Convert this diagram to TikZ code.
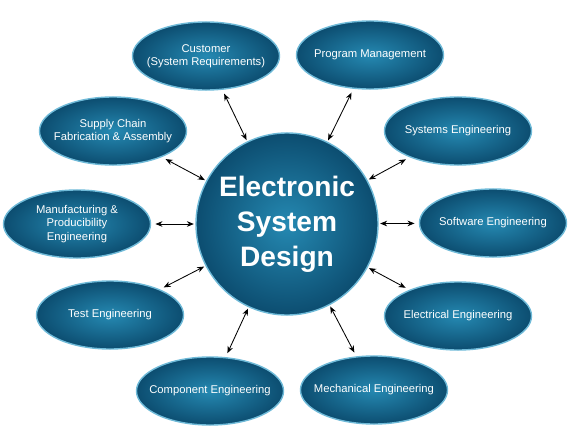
\documentclass[tikz,border=0pt]{standalone}
\usepackage{fontspec}
\setmainfont{Liberation Sans}
\usetikzlibrary{shapes.geometric,arrows.meta}
\definecolor{rimblue}{HTML}{6FBAD8}
\definecolor{innerblue}{HTML}{2589B2}
\definecolor{outerblue}{HTML}{0C4D70}
\tikzset{
  area/.style={ellipse, draw=rimblue, line width=1pt, shading=radial,
    inner color=innerblue, outer color=outerblue, text=white,
    minimum width=3.675cm, minimum height=1.7cm, inner xsep=-10pt, inner ysep=0pt,
    align=center, font=\fontsize{8}{9.5}\selectfont},
  hub/.style={circle, draw=rimblue, line width=1pt, shading=radial,
    inner color=innerblue, outer color=outerblue, text=white,
    minimum size=4.55cm, inner sep=0pt, align=center,
    font=\fontsize{20}{25}\selectfont\bfseries},
  link/.style={{Stealth[length=5pt,width=4pt]}-{Stealth[length=5pt,width=4pt]},
    line width=0.6pt, shorten <=3pt, shorten >=1pt}
}
\begin{document}
\begin{tikzpicture}[x=0.025cm, y=-0.025cm]
        \useasboundingbox (0, 0) rectangle (580, 441);

        % centre
        \node[hub] (esd) at (287, 224) {Electronic\\System\\Design};

        % surrounding areas
        \node[area] (cust) at (206, 56) {Customer\\(System Requirements)};
        \node[area] (prog) at (370, 55) {Program Management};
        \node[area] (syse) at (458, 131) {Systems Engineering};
        \node[area] (soft) at (493, 223) {Software Engineering};
        \node[area] (elec) at (458, 316) {Electrical Engineering};
        \node[area] (mech) at (374, 390) {Mechanical Engineering};
        \node[area] (comp) at (210, 391) {Component Engineering};
        \node[area] (test) at (110, 315) {Test Engineering};
        \node[area] (manu) at (77, 224) {Manufacturing \&\\Producibility\\Engineering};
        \node[area] (supp) at (113, 131) {Supply Chain\\Fabrication \& Assembly};

        % links
        \foreach \n in {cust, prog, syse, soft, elec, mech, comp, test, manu, supp}
            \draw[link] (\n) -- (esd);
    \end{tikzpicture}
\end{document}
